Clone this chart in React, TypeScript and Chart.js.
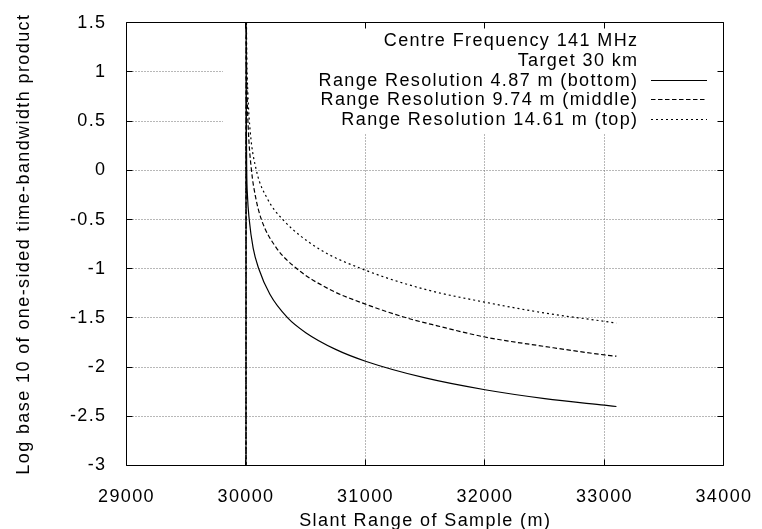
import React, { useEffect, useRef } from 'react';
import { Chart, registerables } from 'chart.js';

Chart.register(...registerables);

// ---- axes ----
const X_MIN = 29000;
const X_MAX = 34000;
const X_STEP = 1000;
const Y_MIN = -3;
const Y_MAX = 1.5;
const Y_STEP = 0.5;

// ---- series ----
const bottomX = [30000, 30001, 30003, 30006, 30012, 30027, 30060, 30107, 30200, 30349, 30500, 30750, 31000, 31500, 32000, 32500, 33000, 33100];
const bottomY = [-4, 1.7, 0.5, 0.0, -0.25, -0.5, -0.79, -1.0, -1.26, -1.5, -1.65, -1.82, -1.94, -2.11, -2.23, -2.32, -2.387, -2.4];

const middleX = [30000, 30001, 30004, 30010, 30020, 30046, 30080, 30129, 30250, 30426, 30700, 31000, 31345, 31600, 32000, 32500, 33000, 33100];
const middleY = [-4, 2.0, 1.2, 0.75, 0.4, 0.0, -0.27, -0.5, -0.78, -1.0, -1.21, -1.36, -1.5, -1.58, -1.694, -1.79, -1.876, -1.889];

const topX = [30000, 30002, 30006, 30015, 30035, 30087, 30180, 30308, 30600, 30968, 31500, 32000, 32500, 33000, 33100];
const topY = [-4, 1.7, 1.2, 0.8, 0.4, 0.0, -0.29, -0.5, -0.79, -1.0, -1.21, -1.34, -1.45, -1.535, -1.553];

const seriesLabels = [
  'Range Resolution 4.87 m (bottom)',
  'Range Resolution 9.74 m (middle)',
  'Range Resolution 14.61 m (top)',
];
const keyHeader = ['Centre Frequency 141 MHz', 'Target 30 km'];
const xTitle = 'Slant Range of Sample (m)';
const yTitle = 'Log base 10 of one-sided time-bandwidth product';

// ---- styles ----
const FONT_FAMILY = "'Liberation Sans', Arial, Helvetica, sans-serif";
const FONT_SIZE = 18;
const LETTER_SPACING = '1.4px';
const DASHES: number[][] = [[], [4.5, 2.5], [2, 3]];
const GRID_COLOR = '#707070';
const TICK_LEN = 6;

const KEY_LEFT = 223;
const KEY_RIGHT = 720;
const KEY_BOTTOM = 133;
const KEY_TEXT_RIGHT = 638.5;
const KEY_FIRST_BASELINE = 46;
const KEY_LINE_STEP = 19.75;
const KEY_SAMPLE_X0 = 651;
const KEY_SAMPLE_X1 = 707;

const snap = (v: number) => Math.floor(v) + 0.5;

const gnuplotFrame = {
  id: 'gnuplotFrame',
  beforeDraw(chart: any) {
    chart.ctx.letterSpacing = LETTER_SPACING;
  },
  beforeDatasetsDraw(chart: any) {
    const { ctx, chartArea: a, scales } = chart;
    const xs = scales.x;
    const ys = scales.y;
    const L = snap(a.left), R = snap(a.right), T = snap(a.top), B = snap(a.bottom);
    const xVals: number[] = xs.ticks.map((t: any) => t.value);
    const yVals: number[] = ys.ticks.map((t: any) => t.value);
    ctx.save();
    ctx.lineWidth = 1;
    // dotted grid
    ctx.strokeStyle = GRID_COLOR;
    ctx.setLineDash([1, 2]);
    ctx.beginPath();
    xVals.forEach((v) => {
      if (v <= xs.min || v >= xs.max) return;
      const px = snap(xs.getPixelForValue(v));
      ctx.moveTo(px, B);
      ctx.lineTo(px, T);
    });
    yVals.forEach((v) => {
      if (v <= ys.min || v >= ys.max) return;
      const py = snap(ys.getPixelForValue(v));
      ctx.moveTo(L, py);
      ctx.lineTo(R, py);
    });
    ctx.stroke();
    ctx.setLineDash([]);
    // opaque key box
    ctx.fillStyle = '#ffffff';
    ctx.fillRect(KEY_LEFT, T + 0.5, KEY_RIGHT - KEY_LEFT, KEY_BOTTOM - T - 0.5);
    // ticks (inward, mirrored) and border
    ctx.strokeStyle = '#000000';
    ctx.beginPath();
    xVals.forEach((v) => {
      const px = snap(xs.getPixelForValue(v));
      ctx.moveTo(px, B);
      ctx.lineTo(px, B - TICK_LEN);
      ctx.moveTo(px, T);
      ctx.lineTo(px, T + TICK_LEN);
    });
    yVals.forEach((v) => {
      const py = snap(ys.getPixelForValue(v));
      ctx.moveTo(L, py);
      ctx.lineTo(L + TICK_LEN, py);
      ctx.moveTo(R, py);
      ctx.lineTo(R - TICK_LEN, py);
    });
    ctx.rect(L, T, R - L, B - T);
    ctx.stroke();
    ctx.restore();
  },
  afterDraw(chart: any) {
    const { ctx, chartArea: a } = chart;
    ctx.save();
    ctx.letterSpacing = LETTER_SPACING;
    ctx.fillStyle = '#000000';
    ctx.font = `${FONT_SIZE}px ${FONT_FAMILY}`;
    // key
    ctx.textAlign = 'right';
    ctx.textBaseline = 'alphabetic';
    const lines = [...keyHeader, ...seriesLabels];
    lines.forEach((t, i) => {
      ctx.fillText(t, KEY_TEXT_RIGHT, KEY_FIRST_BASELINE + KEY_LINE_STEP * i);
    });
    ctx.strokeStyle = '#000000';
    ctx.lineWidth = 1;
    chart.data.datasets.forEach((ds: any, i: number) => {
      const y = Math.round(KEY_FIRST_BASELINE + KEY_LINE_STEP * (i + keyHeader.length) - 6) + 0.5;
      ctx.setLineDash(ds.borderDash || []);
      ctx.beginPath();
      ctx.moveTo(KEY_SAMPLE_X0, y);
      ctx.lineTo(KEY_SAMPLE_X1, y);
      ctx.stroke();
    });
    ctx.setLineDash([]);
    // axis titles
    ctx.textAlign = 'center';
    ctx.textBaseline = 'alphabetic';
    ctx.fillText(xTitle, (a.left + a.right) / 2, 526);
    ctx.translate(28.5, (a.top + a.bottom) / 2);
    ctx.rotate(-Math.PI / 2);
    ctx.fillText(yTitle, 0, 0);
    ctx.restore();
  },
};

const toPoints = (xs: number[], ys: number[]) => xs.map((x, i) => ({ x, y: ys[i] }));

export default function App() {
  const canvasRef = useRef<HTMLCanvasElement | null>(null);

  useEffect(() => {
    document.body.style.margin = '0';
    const canvas = canvasRef.current;
    if (!canvas) return;
    const font = { family: FONT_FAMILY, size: FONT_SIZE };
    const seriesData = [toPoints(bottomX, bottomY), toPoints(middleX, middleY), toPoints(topX, topY)];
    const chart = new Chart(canvas, {
      type: 'line',
      data: {
        datasets: seriesData.map((data, i) => ({
          label: seriesLabels[i],
          data,
          borderColor: '#000000',
          backgroundColor: '#000000',
          borderWidth: 1.2,
          borderDash: DASHES[i],
          pointRadius: 0,
          fill: false,
          cubicInterpolationMode: 'monotone',
          clip: 0,
        })),
      },
      plugins: [gnuplotFrame],
      options: {
        responsive: false,
        animation: false,
        devicePixelRatio: 1,
        parsing: true,
        layout: { padding: { left: 0.5, right: 29.5, top: 20.5, bottom: 0 } },
        plugins: {
          legend: { display: false },
          tooltip: { enabled: false },
          title: { display: false },
        },
        scales: {
          x: {
            type: 'linear',
            min: X_MIN,
            max: X_MAX,
            grid: { display: false },
            border: { display: false },
            ticks: {
              stepSize: X_STEP,
              color: '#000000',
              font,
              padding: 13,
              maxRotation: 0,
              autoSkip: false,
              callback: (v: any) => String(v),
            },
            afterFit: (s: any) => {
              s.height = 63.5;
            },
          },
          y: {
            type: 'linear',
            min: Y_MIN,
            max: Y_MAX,
            grid: { display: false },
            border: { display: false },
            ticks: {
              stepSize: Y_STEP,
              color: '#000000',
              font,
              padding: 12,
              autoSkip: false,
              callback: (v: any) => String(v),
            },
            afterFit: (s: any) => {
              s.width = 126;
            },
          },
        },
      } as any,
    });
    return () => chart.destroy();
  }, []);

  return (
    <div style={{ width: 762, height: 529, position: 'relative' }}>
      <canvas ref={canvasRef} width={762} height={529} style={{ display: 'block' }} />
    </div>
  );
}
